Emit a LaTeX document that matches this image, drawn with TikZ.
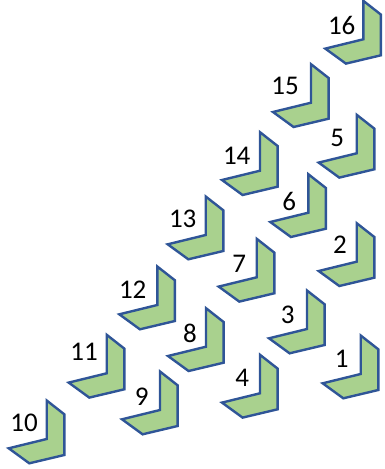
\documentclass[tikz,border=0pt]{standalone}
\usepackage{fontspec}
\setmainfont{Carlito}
\definecolor{chevfill}{HTML}{A9D18E}
\definecolor{chevline}{HTML}{2F5597}
\tikzset{
  chev/.style={fill=chevfill,draw=chevline,line width=2.4pt,line join=miter},
  lab/.style={font=\fontsize{27}{27}\selectfont,inner sep=0pt}
}
\begin{document}
\begin{tikzpicture}[x=1pt,y=-1pt]
\useasboundingbox (0,0) rectangle (385,469);
\foreach \x/\y/\t/\lx/\ly in {
  363.3/39.3/16/341.7/25,
  311/102.7/15/285/86,
  260/170.7/14/236.7/156,
  205.7/235/13/182.7/219.3,
  157.3/305/12/132.7/289.3,
  106.7/373.3/11/84/351.7,
  46.7/439/10/24/423,
  160/410/9/141.7/396.7,
  206/346.7/8/190/333.3,
  256.7/277.3/7/239.3/264,
  308.3/212.7/6/289.3/201.7,
  356.7/153.3/5/337.3/138.3,
  260/393.3/4/242.3/378.3,
  307/329/3/287.7/315,
  356.7/261.7/2/340/245,
  360.7/374/1/341.7/359.3}{
  \draw[chev] (\x,\y) -- ++(0,-38.5) -- ++(17.6,13.8) -- ++(0,40.7) -- ++(-35,8.3) -- ++(-20.6,-15) -- cycle;
  \node[lab] (l\t) at (\lx,\ly) {\t};
}
\end{tikzpicture}
\end{document}
